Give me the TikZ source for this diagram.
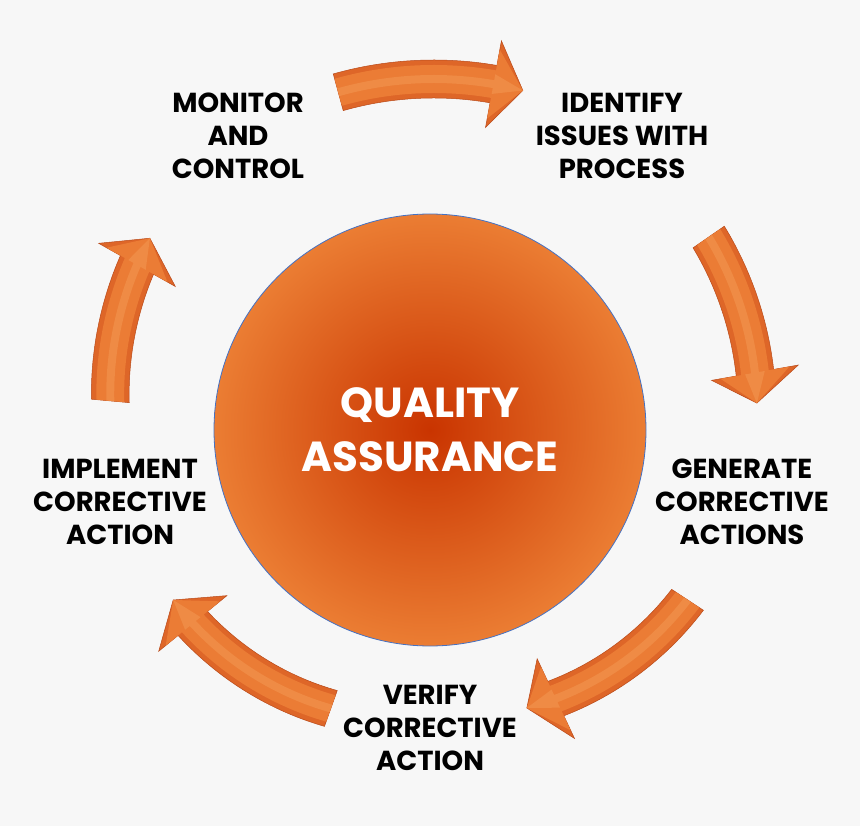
\documentclass[tikz,border=0pt]{standalone}
\usepackage{fontspec}
\setmainfont{Poppins}
\usetikzlibrary{positioning}
\usepackage{xcolor}

\definecolor{qabg}{HTML}{F7F7F7}
\definecolor{qaorange}{HTML}{EB7D33}
\definecolor{qared}{HTML}{C93400}
\definecolor{qablue}{HTML}{4472C4}
\definecolor{arrowedge}{HTML}{B94A1A}
\definecolor{arrowdark}{HTML}{DE6628}
\definecolor{arrowmid}{HTML}{EB7C35}
\definecolor{arrowlight}{HTML}{F39A55}

% one layer of a curved block arrow: start angle, end angle, start radius,
% end radius, head length (deg), body half width, head half width, style
\newcommand{\qalayer}[8]{%
  \pgfmathsetmacro{\qc}{#2+#5}%
  \pgfmathsetmacro{\qrc}{#3+(#4-#3)*(\qc-(#1))/((#2)-(#1))}%
  \path[#8] plot[domain=#1:\qc, samples=30, variable=\t]
      (\t:{#3+(#4-#3)*(\t-(#1))/((#2)-(#1))+#6})
    -- (\qc:{\qrc+#7}) -- (#2:#4) -- (\qc:{\qrc-#7})
    -- plot[domain=\qc:#1, samples=30, variable=\t]
      (\t:{#3+(#4-#3)*(\t-(#1))/((#2)-(#1))-#6})
    -- cycle;}
\newcommand{\qaarrow}[5]{%
  \qalayer{#1}{#2}{#3}{#4}{#5}{19}{44}{fill=arrowdark, draw=arrowedge, line width=0.5pt}%
  \qalayer{#1}{#2}{#3}{#4}{#5}{14}{35}{fill=arrowmid}%
  \qalayer{#1}{#2}{#3}{#4}{#5}{4}{10}{fill=arrowlight, opacity=0.5}}

\begin{document}
\begin{tikzpicture}[
  x=1pt, y=1pt,
  stage/.style={align=center, text=black, font=\fontsize{27.5}{33}\selectfont\bfseries},
  qacircle/.style={circle, draw=qablue, line width=0.8pt, minimum size=432pt,
    inner color=qared, outer color=qaorange, align=center, text=white,
    font=\fontsize{42}{54}\selectfont\bfseries}
]
\path[use as bounding box, fill=qabg] (0,0) rectangle (860,-826);

% Centre
\node[qacircle] (qa) at (430,-430) {QUALITY\\ASSURANCE};

% Stages of the cycle
\node[stage] (monitor) at (238,-136) {MONITOR\\AND\\CONTROL};
\node[stage] (identify) at (622,-136) {IDENTIFY\\ISSUES WITH\\PROCESS};
\node[stage] (generate) at (742,-502) {GENERATE\\CORRECTIVE\\ACTIONS};
\node[stage] (verify) at (430,-728) {VERIFY\\CORRECTIVE\\ACTION};
\node[stage] (implement) at (120,-502) {IMPLEMENT\\CORRECTIVE\\ACTION};

% Curved arrows round the centre (clockwise)
\begin{scope}[shift={(qa.center)}]
\foreach \sa/\ea/\sr/\er/\hl in {105.2/74.7/350/352/4.9, 34.7/4.7/339/328/5.3,
    -33.4/-70.8/308.5/294.4/5.9, -109.6/-146.5/295.6/308/5.7, 174.8/145.6/321/339.5/5}
  {\qaarrow{\sa}{\ea}{\sr}{\er}{\hl}}
\end{scope}
\end{tikzpicture}
\end{document}
